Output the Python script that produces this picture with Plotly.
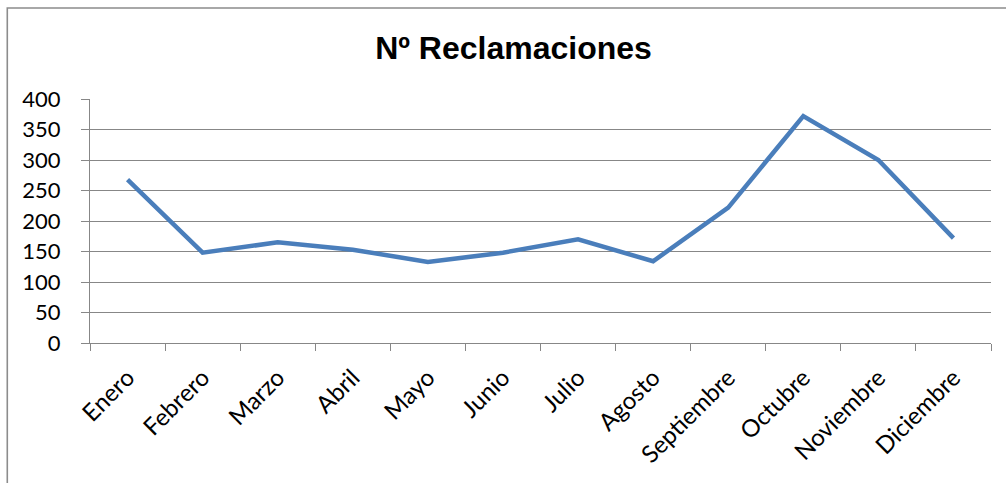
import plotly.graph_objects as go

# Monthly complaint counts
meses = ["Enero", "Febrero", "Marzo", "Abril", "Mayo", "Junio", "Julio",
         "Agosto", "Septiembre", "Octubre", "Noviembre", "Diciembre"]
reclamaciones = [268, 148, 165, 153, 133, 148, 170, 134, 222, 372, 300, 172]
y_ticks = [0, 50, 100, 150, 200, 250, 300, 350, 400]
titulo = "Nº Reclamaciones"

W, H = 1006, 483
ML, MR, MT, MB = 89.5, 14.5, 99.3, 139.7
plot_w = W - ML - MR
plot_h = H - MT - MB

fig = go.Figure()
fig.add_trace(go.Scatter(
    x=meses, y=reclamaciones, mode="lines",
    line=dict(color="#4A7EBB", width=4.5),
    showlegend=False, hoverinfo="x+y",
))

axis_grey = "#878787"
fig.update_layout(
    width=W, height=H,
    margin=dict(l=ML, r=MR, t=MT, b=MB, pad=0),
    paper_bgcolor="white", plot_bgcolor="white",
    title=dict(
        text=titulo, x=513.5 / W, xanchor="center",
        y=1 - 48 / H, yanchor="middle", yref="container",
        font=dict(family="Liberation Sans, Arial", size=32, color="black", weight="bold"),
    ),
    font=dict(family="Lato", color="black"),
    xaxis=dict(
        type="category", range=[-0.5, len(meses) - 0.5],
        tickson="boundaries", ticks="outside", ticklen=7, tickwidth=1.3,
        tickcolor=axis_grey, showline=True, linecolor=axis_grey, linewidth=1.3,
        showgrid=False, tickangle=-45, tickfont=dict(size=24, family="Lato"),
        ticklabelstandoff=10, fixedrange=True,
    ),
    yaxis=dict(
        range=[0, 400], tickvals=y_ticks, ticks="outside", ticklen=8,
        tickwidth=1.3, tickcolor=axis_grey, showline=True, linecolor=axis_grey,
        linewidth=1.3, showgrid=True, gridcolor=axis_grey, gridwidth=1.3,
        zeroline=False, tickfont=dict(size=22, family="Lato"),
        ticklabelstandoff=16, fixedrange=True,
    ),
)

# Chart-area border (its right and bottom sides fall outside the page)
bx0, by0 = 6.7, 8.3
fig.add_shape(
    type="rect", xref="paper", yref="paper",
    x0=(bx0 - ML) / plot_w, x1=(W + 10 - ML) / plot_w,
    y0=(H - MB - (H + 10)) / plot_h, y1=(H - MB - by0) / plot_h,
    line=dict(color="#8C8C8C", width=1.6), layer="below",
)

fig.write_html("out.html")
